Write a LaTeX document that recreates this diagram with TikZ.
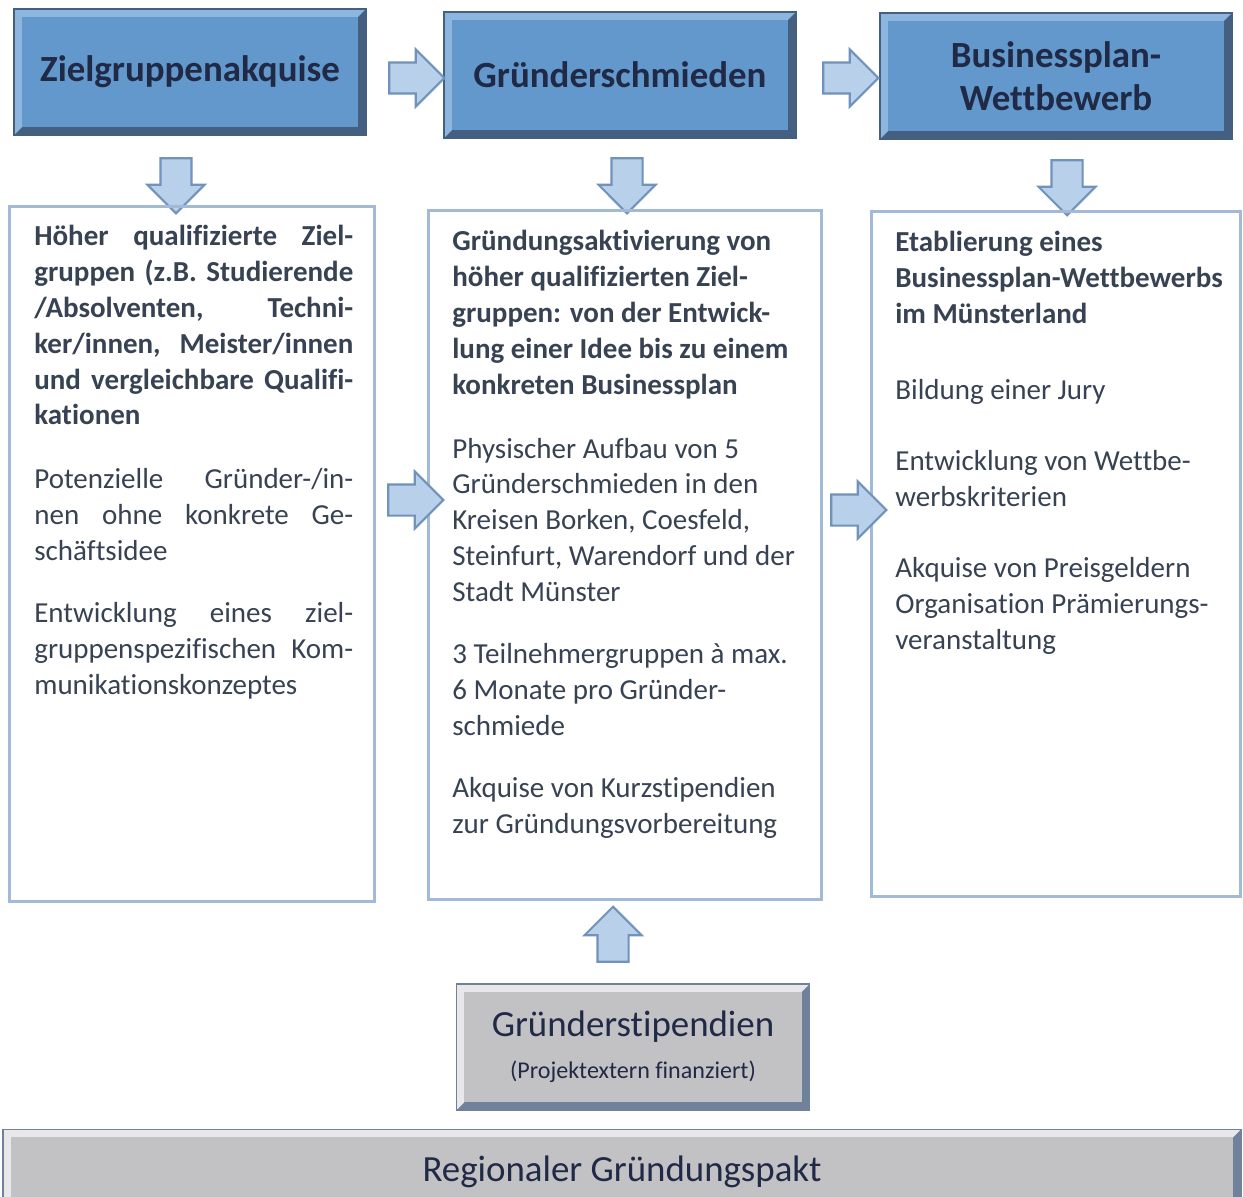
\documentclass[tikz,border=0pt]{standalone}
\usepackage{fontspec}
\setmainfont{Carlito}[Ligatures=NoCommon]
\usetikzlibrary{shapes.arrows}

\definecolor{hdrface}{RGB}{98,152,204}
\definecolor{hdrlight}{RGB}{140,182,222}
\definecolor{hdrdark}{RGB}{68,95,128}
\definecolor{hdrtext}{RGB}{32,42,70}
\definecolor{grayface}{RGB}{194,194,196}
\definecolor{graylight}{RGB}{232,232,234}
\definecolor{graydark}{RGB}{112,130,155}
\definecolor{boxline}{RGB}{162,186,214}
\definecolor{bodytext}{RGB}{55,66,82}
\definecolor{arrowfill}{RGB}{184,208,233}
\definecolor{arrowline}{RGB}{112,146,188}

\newcommand{\natspace}{\spaceskip=0pt\xspaceskip=0pt\relax}
\newcommand{\jline}[1]{\makebox[\hsize][s]{\natspace #1}}

\begin{document}
\begin{tikzpicture}[x=0.02cm, y=-0.02cm,
  bevel/.style n args={3}{fill=#1, path picture={
    \fill[#2] (path picture bounding box.north west) -- (path picture bounding box.north east)
      -- ([shift={(-4.5pt,-4.5pt)}]path picture bounding box.north east)
      -- ([shift={(4.5pt,-4.5pt)}]path picture bounding box.north west)
      -- ([shift={(4.5pt,4.5pt)}]path picture bounding box.south west)
      -- (path picture bounding box.south west) -- cycle;
    \fill[#3] ([shift={(4.5pt,-4.5pt)}]path picture bounding box.north west)
      rectangle ([shift={(-4.5pt,4.5pt)}]path picture bounding box.south east);}},
  header/.style={bevel={hdrdark}{hdrlight}{hdrface}, draw=hdrdark, line width=0.8pt,
    minimum width=7.04cm, minimum height=2.52cm, align=center, text=hdrtext,
    font=\fontsize{21}{24.4}\selectfont\bfseries},
  graybox/.style={bevel={graydark}{graylight}{grayface}, draw=graydark, line width=0.8pt,
    align=center, text=hdrtext},
  box/.style={draw=boxline, line width=1.7pt, inner sep=0},
  body/.style={anchor=north west, inner sep=0, align=left, text=bodytext,
    font=\fontsize{16.5}{20.4}\selectfont},
  blockarrow/.style={single arrow, draw=arrowline, fill=arrowfill, line width=1.2pt,
    inner xsep=0, inner ysep=0, text width=0, text height=0.29cm, text depth=0.29cm,
    single arrow head extend=0.26cm, single arrow tip angle=90, minimum height=1.1cm}]

\path[fill=white, use as bounding box] (0,0) rectangle (1243,1196);

% top row
\node at (190,72) [header] (zak) {Zielgruppenakquise};
\node at (620,75) [header] (gs) {Gründerschmieden};
\node at (1056,76) [header] (bpw) {Businessplan-\\Wettbewerb};

\node at (409,78) [blockarrow] (a1) {};
\node at (843,78) [blockarrow] (a2) {};

\node at (176,178) [blockarrow, rotate=-90] (d1) {};
\node at (627,178) [blockarrow, rotate=-90] (d2) {};
\node at (1067,180) [blockarrow, rotate=-90] (d3) {};

% content boxes
\node at (192,554) [box, minimum width=7.3cm, minimum height=13.92cm] (zakbox) {};
\node at (625,555) [box, minimum width=7.86cm, minimum height=13.8cm] (gsbox) {};
\node at (1056,554) [box, minimum width=7.38cm, minimum height=13.72cm] (bpwbox) {};

\node at (34,225) [body, text width=6.38cm] (zaktext) {\natspace\bfseries
\jline{Höher qualifizierte Ziel-}\\
\jline{gruppen (z.B. Studierende}\\
\jline{/Absolventen, Techni-}\\
\jline{ker/innen, Meister/innen}\\
\jline{und vergleichbare Qualifi-}\\
kationen\\[16pt]\mdseries
\jline{Potenzielle Gründer-/in-}\\
\jline{nen ohne konkrete Ge-}\\
schäftsidee\\[15pt]
\jline{Entwicklung eines ziel-}\\
\jline{gruppenspezifischen Kom-}\\
munikationskonzeptes};

\node at (452,230) [body, text width=7cm] (gstext) {\natspace\bfseries
Gründungsaktivierung von\\
höher qualifizierten Ziel-\\
gruppen: von der Entwick-\\
lung einer Idee bis zu einem\\
konkreten Businessplan\\[16pt]\mdseries
Physischer Aufbau von 5\\
Gründerschmieden in den\\
Kreisen Borken, Coesfeld,\\
Steinfurt, Warendorf und der\\
Stadt Münster\\[15pt]
3 Teilnehmergruppen à max.\\
6 Monate pro Gründer-\\
schmiede\\[15pt]
Akquise von Kurzstipendien\\
zur Gründungsvorbereitung};

\node at (895,231) [body, text width=6.9cm] (bpwtext) {\natspace\bfseries
Etablierung eines\\
Businessplan-Wettbewerbs\\
im Münsterland\\[23pt]\mdseries
Bildung einer Jury\\[20pt]
Entwicklung von Wettbe-\\
werbskriterien\\[20pt]
Akquise von Preisgeldern\\
Organisation Prämierungs-\\
veranstaltung};

\node at (408,500) [blockarrow] (m1) {};
\node at (851,510) [blockarrow] (m2) {};

% bottom
\node at (613,942) [blockarrow, rotate=90] (u1) {};

\node at (633,1047) [graybox, minimum width=7.06cm, minimum height=2.52cm,
  font=\fontsize{21}{24}\selectfont] (stip) {Gründerstipendien\\[0pt]\fontsize{13.7}{16}\selectfont(Projektextern finanziert)};

\node at (622,1172) [graybox, minimum width=24.76cm, minimum height=1.7cm,
  font=\fontsize{21}{24}\selectfont] (pakt) {Regionaler Gründungspakt};

\end{tikzpicture}
\end{document}
